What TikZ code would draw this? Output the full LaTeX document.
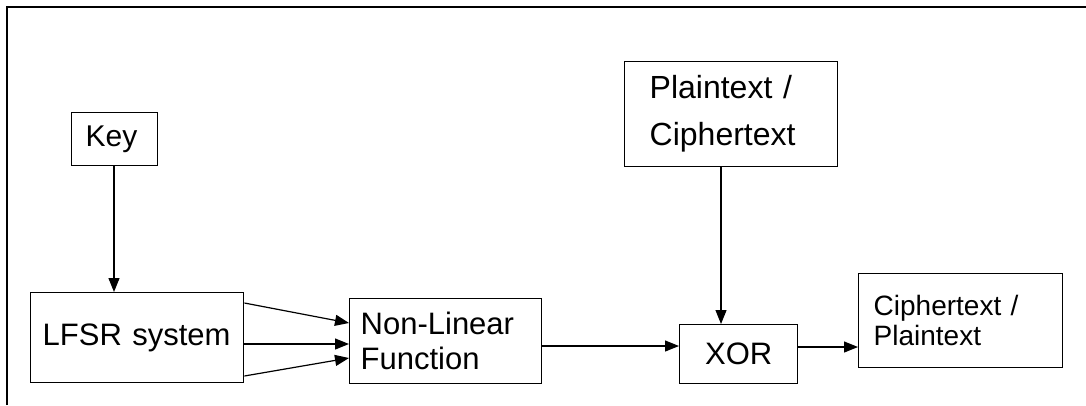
\documentclass[tikz,border=0pt]{standalone}
\usepackage{fontspec}
\setmainfont{Liberation Sans}
\usetikzlibrary{arrows.meta,calc}
\tikzset{
  blk/.style={draw, line width=1.4pt, anchor=north west, inner ysep=0pt, align=left},
  conn/.style={line width=1.2pt, -{Triangle[length=14pt,width=11pt]}}
}
\begin{document}
\begin{tikzpicture}[x=1pt,y=-1pt]
\useasboundingbox (0,0) rectangle (1086,405);
\fill[white] (0,0) rectangle (1086,405);
\draw[line width=1.6pt] (7,405) -- (7,7) -- (1086,7);
% boxes: pad = inner xsep, minimum width/height = box size
\node[blk, inner xsep=14pt, text width=58pt, minimum height=53pt, font={\fontsize{30}{35}\selectfont}] (key) at (71,112) {Key};
\node[blk, inner xsep=12pt, text width=189pt, minimum height=90pt, font={\fontsize{31}{36}\selectfont}] (lfsr) at (30,292) {LFSR system};
\node[blk, inner xsep=11pt, text width=170pt, minimum height=85pt, font={\fontsize{31}{35}\selectfont}] (nlf) at (349,298) {Non-Linear\\Function};
\node[blk, inner xsep=0pt, text width=118pt, align=center, minimum height=59pt, font={\fontsize{31}{36}\selectfont}] (xor) at (679,324) {XOR};
\node[blk, inner xsep=15pt, text width=174pt, minimum height=94pt, font={\fontsize{28}{30}\selectfont}] (out) at (858,273) {Ciphertext /\\Plaintext};
\node[blk, inner xsep=25pt, text width=163pt, minimum height=105pt, font={\fontsize{32}{47}\selectfont}] (inp) at (624,61) {Plaintext /\\Ciphertext};
% connectors
\draw[conn] (key.south -| 114,0) -- (lfsr.north -| 114,0);
\draw[conn] ($(lfsr.north east)+(0,11)$) -- ($(nlf.north west)+(0,25)$);
\draw[conn] ($(lfsr.north east)+(0,52)$) -- ($(nlf.north west)+(0,46)$);
\draw[conn] ($(lfsr.north east)+(0,84)$) -- ($(nlf.north west)+(0,60)$);
\coordinate (a) at ($(nlf.north east)+(0,48)$);
\draw[conn] (a) -- (a -| xor.west);
\coordinate (b) at ($(xor.north east)+(0,23)$);
\draw[conn] (b) -- (b -| out.west);
\coordinate (c) at ($(inp.south west)+(97,0)$);
\draw[conn] (c) -- (c |- xor.north);
\end{tikzpicture}
\end{document}
